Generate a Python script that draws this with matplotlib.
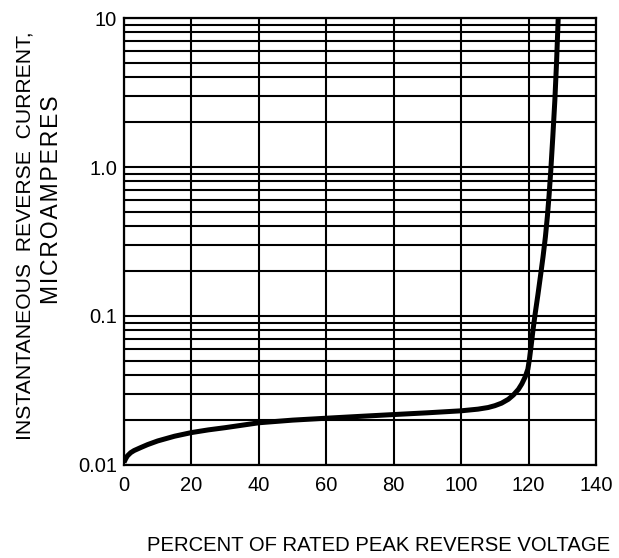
import numpy as np
import matplotlib
matplotlib.use("Agg")
import matplotlib.pyplot as plt
from matplotlib.ticker import FixedLocator, FixedFormatter

plt.rcParams['font.family'] = ['Liberation Sans', 'DejaVu Sans']

# curve: percent of rated PRV vs reverse current (uA)
volt = [0, 0.5, 1, 2, 3, 5, 7, 10, 15, 20, 25, 30, 40, 50, 60, 70, 80, 90,
        100, 105, 108, 110, 112, 114, 115.5, 117, 118, 119, 119.8, 120.3,
        120.8, 121.3, 122, 122.8, 123.6, 124.3, 125, 125.6, 126.1, 126.6,
        127.2, 127.8, 128.3, 128.8]
current = [0.0104, 0.0110, 0.0115, 0.0121, 0.0125, 0.0131, 0.0137, 0.0145,
           0.0156, 0.0165, 0.0172, 0.0178, 0.0192, 0.0200, 0.0206, 0.0212,
           0.0218, 0.0224, 0.0231, 0.0237, 0.0243, 0.0250, 0.0260, 0.0276,
           0.0295, 0.0322, 0.0350, 0.0390, 0.0440, 0.0520, 0.0640, 0.0800,
           0.1050, 0.140, 0.190, 0.250, 0.340, 0.470, 0.650, 0.950, 1.60,
           2.80, 5.00, 10.0]

xticks = [0, 20, 40, 60, 80, 100, 120, 140]
yticks = [0.01, 0.1, 1.0, 10]
ytick_labels = ['0.01', '0.1', '1.0', '10']

fig = plt.figure(figsize=(6.19, 5.58), dpi=100)
ax = fig.add_axes([0.2003, 0.1667, 0.7625, 0.801])

ax.plot(volt, current, color='black', lw=3.6, solid_capstyle='butt', zorder=3)

ax.set_yscale('log')
ax.set_xlim(0, 140)
ax.set_ylim(0.01, 10)

ax.set_xticks(xticks)
ax.yaxis.set_major_locator(FixedLocator(yticks))
ax.yaxis.set_major_formatter(FixedFormatter(ytick_labels))
minors = [m * d for d in (0.01, 0.1, 1.0) for m in range(2, 10)]
ax.yaxis.set_minor_locator(FixedLocator(minors))
ax.yaxis.set_minor_formatter(FixedFormatter([''] * len(minors)))

ax.grid(True, which='both', axis='y', color='black', lw=1.5)
ax.grid(True, which='major', axis='x', color='black', lw=1.5)
ax.tick_params(which='both', length=0, labelsize=14.5, colors='black')
ax.tick_params(axis='x', pad=8)
ax.tick_params(axis='y', pad=5)
for s in ax.spines.values():
    s.set_linewidth(1.6)
    s.set_color('black')

fig.text(0.611, 0.023, 'PERCENT OF RATED PEAK REVERSE VOLTAGE',
         ha='center', va='center', fontsize=14.6)
fig.text(0.040, 0.577, 'INSTANTANEOUS  REVERSE  CURRENT,', rotation=90,
         ha='center', va='center', fontsize=15.2)
# second line is set a little wider in the original
fig.text(0.084, 0.642, '\u200a'.join('MICROAMPERES'), rotation=90,
         ha='center', va='center', fontsize=16.5)

fig.savefig('out.png', dpi=100)
